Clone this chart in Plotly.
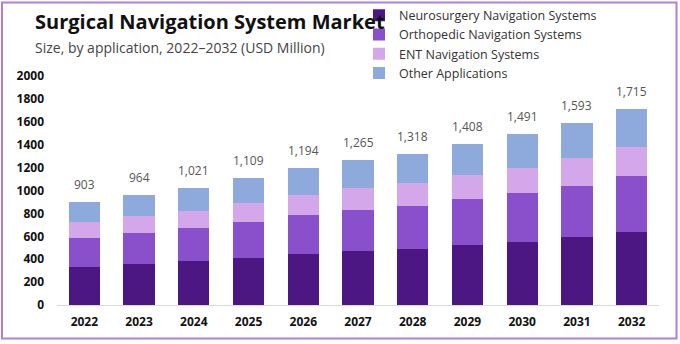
import plotly.graph_objects as go

# Market size by application, USD million
years = ["2022", "2023", "2024", "2025", "2026", "2027", "2028", "2029", "2030", "2031", "2032"]
neurosurgery = [335, 361, 381, 413, 443, 472, 492, 524, 553, 591, 635]
orthopedic = [253, 271, 289, 315, 340, 358, 373, 399, 422, 451, 492]
ent = [137, 145, 154, 163, 178, 189, 198, 209, 224, 239, 256]
other = [178, 187, 197, 218, 233, 246, 255, 276, 292, 312, 332]

series_names = [
    "Neurosurgery Navigation Systems",
    "Orthopedic Navigation Systems",
    "ENT Navigation Systems",
    "Other Applications",
]
series_values = [neurosurgery, orthopedic, ent, other]
series_colors = ["#4C1782", "#8A4FCB", "#D3A7EA", "#8EA9DB"]

y_ticks = [0, 200, 400, 600, 800, 1000, 1200, 1400, 1600, 1800, 2000]

totals = [sum(v) for v in zip(*series_values)]

W, H = 680, 344
L, R, T, B = 57, 21, 76, 39
PW, PH = W - L - R, H - T - B


def px(x):
    return (x - L) / PW


def py(y):
    return (H - B - y) / PH


FONT = "Open Sans"

fig = go.Figure()
for name, vals, col in zip(series_names, series_values, series_colors):
    fig.add_trace(go.Bar(
        x=years, y=vals, name=name,
        marker=dict(color=col, line=dict(width=0)),
    ))

# Stack totals above each bar (x given as category index)
for i, tot in enumerate(totals):
    fig.add_annotation(
        x=i, y=tot, xref="x", yref="y",
        text=f"{tot:,}", showarrow=False,
        yanchor="bottom", yshift=7,
        font=dict(family=FONT, size=12, color="#555555"),
    )

fig.add_annotation(
    x=px(33), y=py(21), xref="paper", yref="paper",
    xanchor="left", yanchor="middle", showarrow=False,
    text="<b>Surgical Navigation System Market</b>",
    font=dict(family=FONT, size=20, color="#111111"),
)
fig.add_annotation(
    x=px(33), y=py(48), xref="paper", yref="paper",
    xanchor="left", yanchor="middle", showarrow=False,
    text="Size, by application, 2022\u20132032 (USD Million)",
    font=dict(family=FONT, size=14, color="#444444"),
)

# Frame around the whole graphic
fig.add_shape(
    type="rect", xref="paper", yref="paper",
    x0=px(2), x1=px(676.5), y0=py(338.5), y1=py(2.5),
    line=dict(color="#B07FD8", width=2), layer="above",
)

fig.update_layout(
    width=W, height=H,
    margin=dict(l=L, r=R, t=T, b=B, pad=0, autoexpand=False),
    barmode="stack", bargap=0.43,
    plot_bgcolor="white", paper_bgcolor="white",
    showlegend=True,
    legend=dict(
        xref="container", yref="container",
        x=359 / W, y=1 - 0.5 / H, xanchor="left", yanchor="top",
        traceorder="normal", orientation="v",
        font=dict(family=FONT, size=12.5, color="#333333"),
        bgcolor="rgba(0,0,0,0)", itemwidth=30, tracegroupgap=0,
    ),
    xaxis=dict(
        type="category", autotypenumbers="strict",
        showgrid=False, showline=True, linecolor="#D9D9D9", linewidth=1,
        ticks="", tickfont=dict(family=FONT, size=12, color="#111111", weight="bold"),
        ticklabelstandoff=6,
    ),
    yaxis=dict(
        range=[0, 2000], tickvals=y_ticks, showgrid=False, zeroline=False,
        showline=False, ticks="",
        tickfont=dict(family=FONT, size=12, color="#111111", weight="bold"),
        ticklabelstandoff=12,
    ),
)

fig.write_html("out.html")
